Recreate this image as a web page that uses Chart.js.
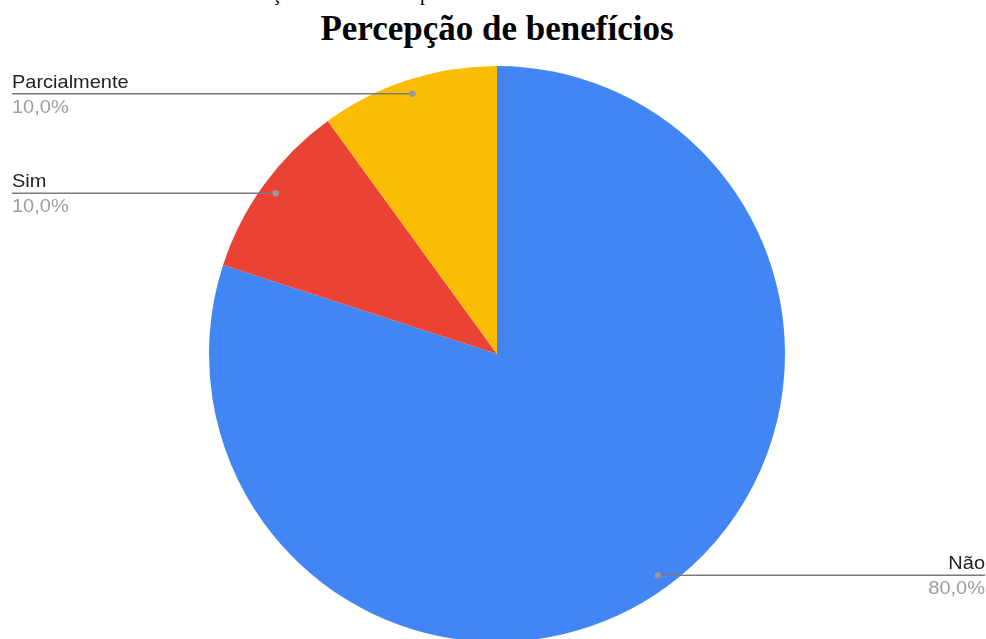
<!DOCTYPE html>
<html>
<head>
<meta charset="utf-8">
<script src="https://cdn.jsdelivr.net/npm/chart.js@4"></script>
<style>
  html, body { margin: 0; padding: 0; width: 986px; height: 639px; overflow: hidden; background: #fff; }
  #wrap { position: relative; width: 986px; height: 639px; overflow: hidden; }
  #c { position: absolute; left: 0; top: 0; }
  #title { position: absolute; left: 0; width: 994px; top: 9px; text-align: center;
           font-family: "Liberation Serif", "Times New Roman", serif; font-weight: bold; font-size: 35px; color: #000; }
  .frag { position: absolute; font-family: "Liberation Serif", "Times New Roman", serif; font-size: 20px; color: #000; line-height: 20px; }
</style>
</head>
<body>
<div id="wrap">
  <span class="frag" style="left:272px; top:-17px;">ç</span>
  <span class="frag" style="left:420px; top:-17px;">p</span>
  <div id="title">Percepção de benefícios</div>
  <canvas id="c" width="986" height="700"></canvas>
</div>
<script>
const categories = ['Não', 'Sim', 'Parcialmente'];
const values = [80, 10, 10];
const colors = ['#4285F4', '#EA4335', '#FBBC04'];

const leaderLabels = {
  id: 'leaderLabels',
  afterDraw(chart) {
    const ctx = chart.ctx;
    const meta = chart.getDatasetMeta(0);
    const data = chart.data.datasets[0].data;
    const total = data.reduce((a, b) => a + b, 0);
    const sx = 1.08;
    meta.data.forEach((arc, i) => {
      const p = arc.getProps(['x', 'y', 'startAngle', 'endAngle', 'outerRadius'], true);
      const mid = (p.startAngle + p.endAngle) / 2;
      const r = p.outerRadius * 0.95;
      const dx = p.x + Math.cos(mid) * r;
      const dy = p.y + Math.sin(mid) * r;
      const left = dx < p.x;
      const edge = left ? 12 : 985;
      ctx.save();
      ctx.strokeStyle = '#7a7a7a';
      ctx.lineWidth = 1.5;
      ctx.beginPath();
      ctx.moveTo(dx, dy);
      ctx.lineTo(edge, dy);
      ctx.stroke();
      ctx.fillStyle = '#9a9a9a';
      ctx.beginPath();
      ctx.arc(dx, dy, 3.2, 0, Math.PI * 2);
      ctx.fill();
      ctx.translate(edge, dy);
      ctx.scale(sx, 1);
      ctx.font = '18.5px "Liberation Sans", Arial, sans-serif';
      ctx.textAlign = left ? 'left' : 'right';
      ctx.textBaseline = 'alphabetic';
      ctx.fillStyle = '#222222';
      ctx.fillText(chart.data.labels[i], 0, -6);
      ctx.fillStyle = '#9e9e9e';
      const pct = (data[i] / total * 100).toFixed(1).replace('.', ',') + '%';
      ctx.fillText(pct, 0, 19);
      ctx.restore();
    });
  }
};

new Chart(document.getElementById('c'), {
  type: 'pie',
  data: {
    labels: categories,
    datasets: [{
      data: values,
      backgroundColor: colors,
      borderWidth: 0
    }]
  },
  options: {
    responsive: false,
    devicePixelRatio: 1,
    animation: false,
    layout: { padding: { left: 209, right: 201, top: 66, bottom: 58 } },
    plugins: {
      legend: { display: false },
      tooltip: { enabled: false },
      title: { display: false }
    }
  },
  plugins: [leaderLabels]
});
</script>
</body>
</html>
